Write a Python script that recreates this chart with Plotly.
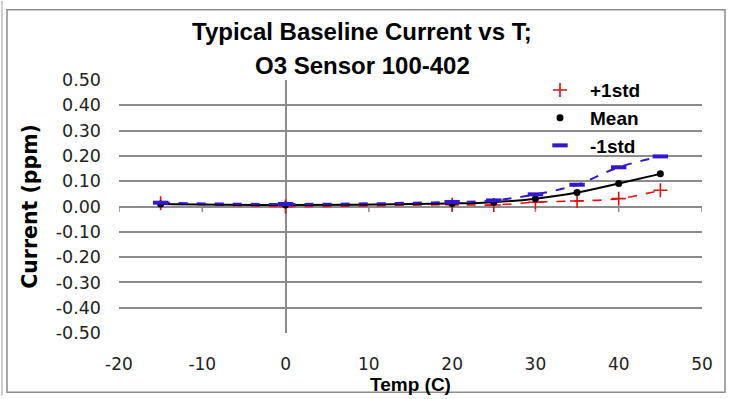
import plotly.graph_objects as go

temps = [-15, 0, 20, 25, 30, 35, 40, 45]
plus_std = [0.013, 0.0, 0.007, 0.006, 0.017, 0.022, 0.031, 0.064]
mean_vals = [0.010, 0.006, 0.012, 0.017, 0.031, 0.055, 0.091, 0.129]
minus_std = [0.015, 0.010, 0.018, 0.024, 0.048, 0.086, 0.155, 0.198]
x_ticks = [-20, -10, 0, 10, 20, 30, 40, 50]
x_tick_text = ["-20", "-10", "0", "10", "20", "30", "40", "50"]
y_ticks = [-0.5, -0.4, -0.3, -0.2, -0.1, 0.0, 0.1, 0.2, 0.3, 0.4, 0.5]
y_tick_text = ["-0.50", "-0.40", "-0.30", "-0.20", "-0.10", "0.00",
               "0.10", "0.20", "0.30", "0.40", "0.50"]
title_lines = ["Typical Baseline Current vs T;", "O3 Sensor 100-402"]

TICKFONT = "'DejaVu Sans', sans-serif"
BOLDFONT = "'Liberation Sans', Arial, sans-serif"
RED = "#E01010"
BLUE = "#3318CC"
GRID = "#8C8C8C"

fig = go.Figure()

series = [
    ("+1std", plus_std, dict(color=RED, width=1.6, dash="dash"),
     dict(symbol="cross-thin", size=10, line=dict(color=RED, width=1.6), color=RED)),
    ("Mean", mean_vals, dict(color="black", width=2),
     dict(symbol="circle", size=7, color="black")),
    ("-1std", minus_std, dict(color=BLUE, width=2, dash="dash"),
     dict(symbol="line-ew", size=11, line=dict(color=BLUE, width=4), color=BLUE)),
]

for i, (name, vals, line, marker) in enumerate(series):
    fig.add_trace(go.Scatter(
        x=temps, y=vals, mode="lines+markers", name=name,
        line=dict(shape="spline", smoothing=1, **line),
        marker=marker, showlegend=False,
    ))
for i, (name, vals, line, marker) in enumerate(series):
    fig.add_trace(go.Scatter(
        x=[None], y=[None], mode="markers", name=f"<b>{name}</b>",
        marker=marker, legendgroup=f"g{i}", showlegend=True,
    ))

PW, PH, L, T = 583, 256, 119, 80
def px(xp):
    return (xp - L) / PW
def py(yp):
    return (T + PH - yp) / PH

shapes = []
shapes.append(dict(type="rect", xref="paper", yref="paper",
                   x0=px(7), x1=px(725), y0=py(396), y1=py(9),
                   line=dict(color="#8C8C8C", width=1.5), layer="below"))
shapes.append(dict(type="line", xref="paper", yref="paper",
                   x0=px(2), x1=px(2), y0=py(399), y1=py(0),
                   line=dict(color="#BBBBBB", width=1.5), layer="below"))
for t in x_ticks:
    shapes.append(dict(type="line", xref="x", yref="y",
                       x0=t, x1=t, y0=0, y1=-0.022,
                       line=dict(color=GRID, width=1.5), layer="below"))

annotations = []
for txt, yc in zip(title_lines, [31, 65]):
    annotations.append(dict(text=f"<b>{txt}</b>", xref="paper", yref="paper",
                            x=px(362), y=py(yc), xanchor="center", yanchor="middle",
                            showarrow=False,
                            font=dict(size=24, family=BOLDFONT, color="black")))

fig.update_layout(
    width=730, height=399,
    margin=dict(l=L, r=730 - L - PW, t=T, b=399 - T - PH),
    paper_bgcolor="white", plot_bgcolor="white",
    font=dict(family=TICKFONT, color="black", size=17),
    xaxis=dict(range=[-20, 50], tickvals=x_ticks, ticktext=x_tick_text, showgrid=False,
               zeroline=True, zerolinecolor=GRID, zerolinewidth=1.5,
               showline=False, ticks="", ticklabelstandoff=19,
               tickfont=dict(size=17, family=TICKFONT, color="#222"),
               title=dict(text="<b>Temp (C)</b>", font=dict(size=19, family=BOLDFONT), standoff=0)),
    yaxis=dict(range=[-0.5, 0.5], tickvals=y_ticks, ticktext=y_tick_text,
               showgrid=True, gridcolor=GRID, gridwidth=1.5,
               zeroline=True, zerolinecolor=GRID, zerolinewidth=1.5,
               showline=False, ticks="", ticklabelstandoff=17,
               tickfont=dict(size=17.5, family=TICKFONT, color="#222"),
               title=dict(text="<b>Current (ppm)</b>",
                          font=dict(size=20.5, family="'DejaVu Sans', sans-serif"), standoff=12)),
    legend=dict(x=px(530), xanchor="left", y=py(71), yanchor="top",
                bgcolor="rgba(0,0,0,0)", traceorder="grouped", tracegroupgap=0,
                itemwidth=50,
                font=dict(size=19, family=BOLDFONT, color="black")),
    shapes=shapes,
    annotations=annotations,
    showlegend=True,
)

fig.write_html("out.html", config={"displayModeBar": False},
               post_script="document.body.style.margin='0';")
